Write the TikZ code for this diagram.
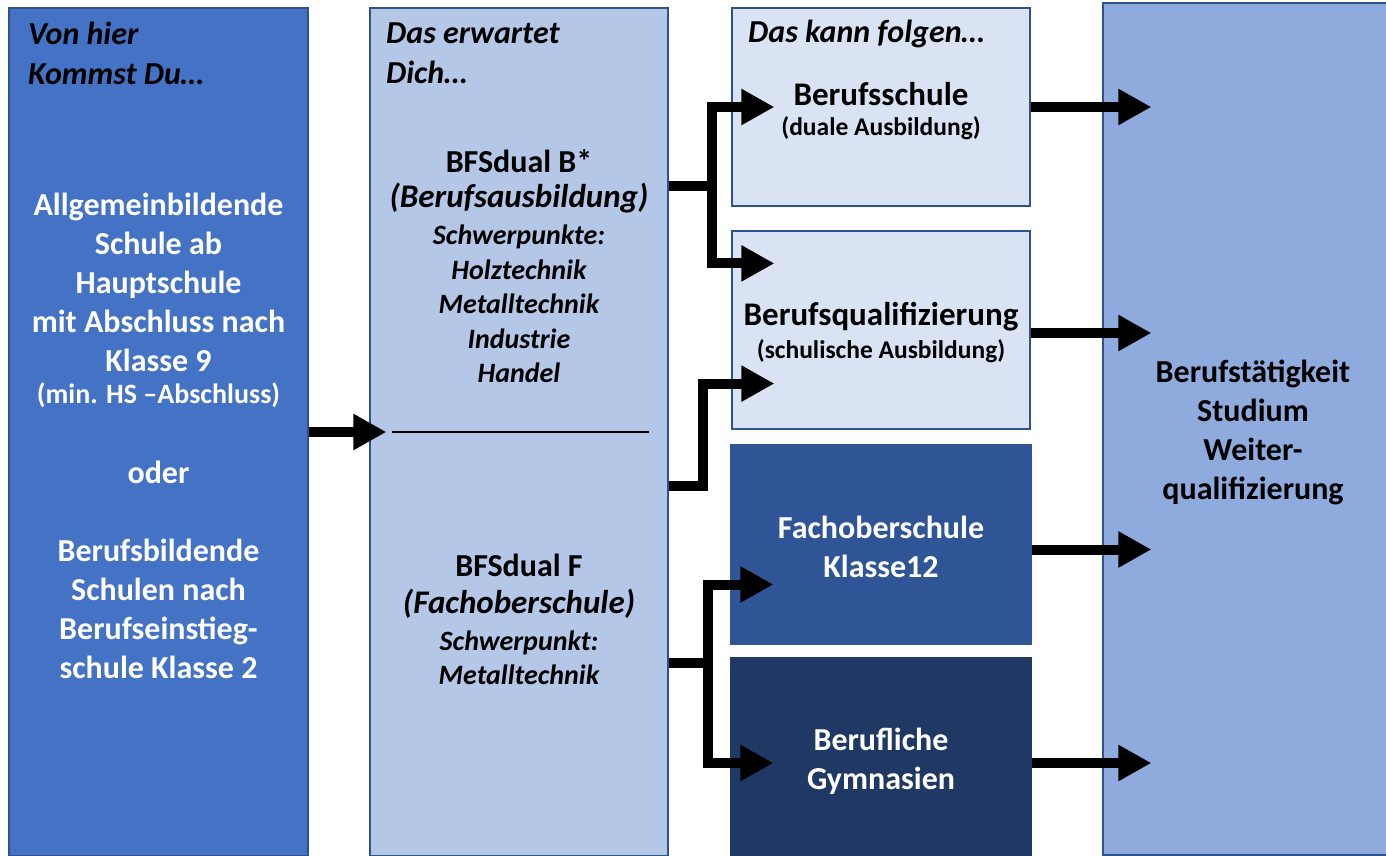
\documentclass[tikz,border=0pt]{standalone}
\usepackage{fontspec}
\setmainfont{Carlito}
\usetikzlibrary{arrows.meta}
\definecolor{randblau}{HTML}{2F528F}
\definecolor{mittelblau}{HTML}{4472C4}
\definecolor{hellblau}{HTML}{B4C7E7}
\definecolor{blassblau}{HTML}{DAE3F3}
\definecolor{fosblau}{HTML}{2F5597}
\definecolor{nachtblau}{HTML}{203864}
\definecolor{zielblau}{HTML}{8FAADC}

\begin{document}
\begin{tikzpicture}[x=1pt,y=-1pt,
		kasten/.style={draw=randblau,line width=1.2pt,inner sep=0pt},
		pfeil/.style={line width=10pt,-{Triangle[length=33pt,width=34pt]}},
		stiel/.style={line width=10pt},
		kopf/.style={anchor=west,align=left,inner sep=0pt,font=\bfseries\itshape\fontsize{32}{40}\selectfont},
		groß/.style={align=center,inner sep=0pt,font=\bfseries\fontsize{32}{39}\selectfont},
		mittel/.style={align=center,inner sep=0pt,font=\bfseries\fontsize{33}{38}\selectfont},
		klein/.style={align=center,inner sep=0pt,font=\bfseries\fontsize{25.5}{30}\selectfont},
		schwer/.style={align=center,inner sep=0pt,font=\bfseries\itshape\fontsize{28}{34.5}\selectfont}]
	\useasboundingbox (0,0) rectangle (1386,856);

	% Spalten
	\node[kasten,fill=mittelblau,minimum width=299pt,minimum height=848pt] (herkunft) at (158.5,432) {};
	\node[kasten,fill=hellblau,minimum width=298pt,minimum height=848pt] (erwartet) at (519,432) {};
	\node[kasten,fill=blassblau,minimum width=298pt,minimum height=198pt] (schule) at (881,107) {};
	\node[kasten,fill=blassblau,minimum width=298pt,minimum height=198pt] (quali) at (881,330) {};
	\node[kasten,draw=fosblau,fill=fosblau,minimum width=300pt,minimum height=199pt] (fos) at (881,544.5) {};
	\node[kasten,draw=nachtblau,fill=nachtblau,minimum width=300pt,minimum height=198pt] (gym) at (881,757) {};
	\node[kasten,fill=zielblau,minimum width=297pt,minimum height=852pt] (ziel) at (1251.5,429) {};

	% Texte
	\node[kopf] (kopfA) at (28,53) {Von hier\\Kommst Du…};
	\node[kopf] (kopfB) at (386,53) {Das erwartet\\Dich…};
	\node[kopf] (kopfC) at (748,34) {Das kann folgen…};

	\node[groß,text=white] (allg) at (158.5,282) {Allgemeinbildende\\Schule ab\\Hauptschule\\mit Abschluss nach\\Klasse 9};
	\node[klein,text=white,font=\bfseries\fontsize{28}{32}\selectfont] (min) at (158.5,395) {(min. HS –Abschluss)};
	\node[groß,text=white] (oder) at (158.5,472) {oder};
	\node[groß,text=white] (bbs) at (158.5,609) {Berufsbildende\\Schulen nach\\Berufseinstieg-\\schule Klasse 2};

	\node[groß] (bfsB) at (519,161) {BFSdual B*};
	\node[mittel,font=\bfseries\itshape\fontsize{33}{38}\selectfont] (bfsBart) at (519,198) {(Berufsausbildung)};
	\node[schwer] (bfsBsp) at (519,304) {Schwerpunkte:\\Holztechnik\\Metalltechnik\\Industrie\\Handel};
	\node[groß] (bfsF) at (519,565) {BFSdual F};
	\node[mittel,font=\bfseries\itshape\fontsize{33}{38}\selectfont] (bfsFart) at (519,604) {(Fachoberschule)};
	\node[schwer] (bfsFsp) at (519,658) {Schwerpunkt:\\Metalltechnik};

	\node[mittel] (schuleT) at (881,94) {Berufsschule};
	\node[klein] (schuleU) at (881,128) {(duale Ausbildung)};
	\node[mittel] (qualiT) at (881,317) {Berufsqualifizierung};
	\node[klein] (qualiU) at (881,351) {(schulische Ausbildung)};
	\node[groß,text=white] (fosT) at (881,547) {Fachoberschule\\Klasse12};
	\node[groß,text=white] (gymT) at (881,761) {Berufliche\\Gymnasien};
	\node[groß] (zielT) at (1253,432) {Berufstätigkeit\\Studium\\Weiter-\\qualifizierung};

	% Trennlinie
	\draw[line width=2pt] ([xshift=23pt]erwartet.west) -- ([xshift=-20pt]erwartet.east);

	% Pfeile
	\coordinate (eingang) at ([xshift=17pt]erwartet.west);
	\draw[pfeil] (herkunft.east) -- (herkunft.east -| eingang);

	\coordinate (gabelB) at (712,186);
	\coordinate (gabelQ) at (703,486);
	\coordinate (gabelF) at (708,663);
	\coordinate (zielB1) at ([xshift=43pt]schule.west);
	\coordinate (zielB2) at ([xshift=43pt,yshift=-33pt]quali.north west);
	\coordinate (zielQ) at ([xshift=43pt,yshift=46pt]quali.south west);
	\coordinate (zielF1) at ([xshift=43pt,yshift=-40pt]fos.west);
	\coordinate (zielF2) at ([xshift=43pt,yshift=-6pt]gym.west);

	\draw[stiel] (erwartet.east |- gabelB) -- ([xshift=5pt]gabelB);
	\draw[pfeil] (gabelB) |- (zielB1);
	\draw[pfeil] (gabelB) |- (zielB2);
	\draw[pfeil] (erwartet.east |- gabelQ) -- (gabelQ) |- (zielQ);
	\draw[stiel] (erwartet.east |- gabelF) -- ([xshift=5pt]gabelF);
	\draw[pfeil] (gabelF) |- (zielF1);
	\draw[pfeil] (gabelF) |- (zielF2);

	\coordinate (ende) at ([xshift=49pt]ziel.west);
	\draw[pfeil] (schule.east) -- (schule.east -| ende);
	\draw[pfeil] ([yshift=-3pt]quali.east) -- ([yshift=-3pt]quali.east -| ende);
	\draw[pfeil] ([yshift=-5pt]fos.east) -- ([yshift=-5pt]fos.east -| ende);
	\draw[pfeil] ([yshift=-6pt]gym.east) -- ([yshift=-6pt]gym.east -| ende);
\end{tikzpicture}
\end{document}
